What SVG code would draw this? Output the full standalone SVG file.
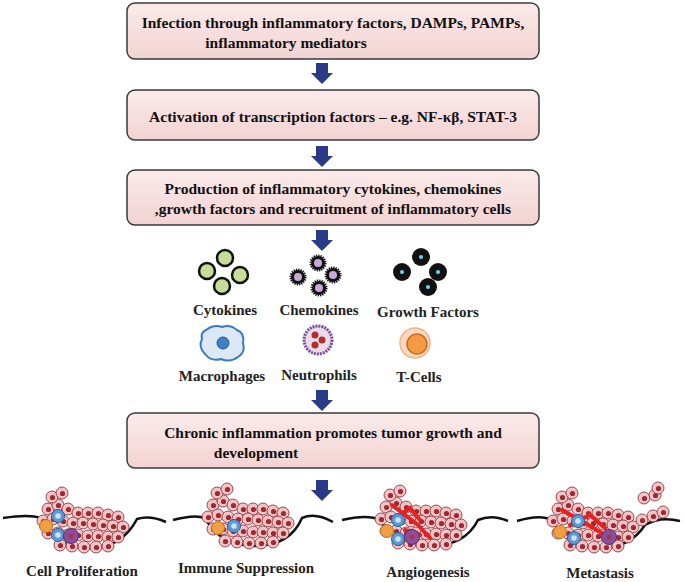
<svg xmlns="http://www.w3.org/2000/svg" xmlns:xlink="http://www.w3.org/1999/xlink" width="685" height="582" viewBox="0 0 685 582">
<style>
.box{fill:url(#pg);stroke:#3a3a3a;stroke-width:1.5}
.t{font-family:"Liberation Serif",serif;font-weight:bold;font-size:15.5px;fill:#111;text-anchor:middle}
.l{font-family:"Liberation Serif",serif;font-weight:bold;font-size:15px;fill:#222;text-anchor:middle}
.arr{fill:#2b3a86}
.ground{fill:none;stroke:#111;stroke-width:2.5}
</style>
<defs>
<linearGradient id="pg" x1="0" y1="0" x2="0" y2="1"><stop offset="0" stop-color="#fbeaea"/><stop offset="1" stop-color="#f3d3d3"/></linearGradient>
<g id="cell"><circle r="6" fill="#f3c2c4" stroke="#7a2a30" stroke-width="0.8"/><circle cx="0.5" cy="0.5" r="2.6" fill="#9c2a32"/></g>
<g id="blue"><circle r="6.5" fill="#5b9bd5" stroke="#2c5c99"/><circle r="2.8" fill="#fff" opacity="0.7"/></g>
<g id="org"><circle r="6.5" fill="#f0a040" stroke="#c07020"/></g>
<g id="pur"><circle r="7.5" fill="#8a4f9c" stroke="#5a2f6a"/><circle r="2.5" fill="#b03050"/></g>
<g id="chem"><circle r="7" fill="#111" stroke="#111" stroke-width="3" stroke-dasharray="1.2 1"/><circle r="4" fill="#c8a8d8"/></g>
<g id="ar"><rect x="-6" y="0" width="12" height="11"/><polygon points="-11,10 11,10 0,21"/></g>
<g id="tumor">
<use href="#cell" x="-40" y="-18"/><use href="#cell" x="-30" y="-22"/><use href="#cell" x="-20" y="-18"/><use href="#cell" x="-10" y="-14"/><use href="#cell" x="0" y="-14"/><use href="#cell" x="10" y="-14"/><use href="#cell" x="20" y="-12"/><use href="#cell" x="30" y="-10"/>
<use href="#cell" x="-45" y="-6"/><use href="#cell" x="-35" y="-8"/><use href="#cell" x="-25" y="-6"/><use href="#cell" x="-15" y="-4"/><use href="#cell" x="-5" y="-4"/><use href="#cell" x="5" y="-3"/><use href="#cell" x="15" y="-2"/><use href="#cell" x="25" y="-1"/><use href="#cell" x="35" y="0"/>
<use href="#cell" x="-40" y="6"/><use href="#cell" x="-30" y="6"/><use href="#cell" x="-20" y="8"/><use href="#cell" x="-10" y="8"/><use href="#cell" x="0" y="9"/><use href="#cell" x="10" y="9"/><use href="#cell" x="20" y="10"/><use href="#cell" x="30" y="10"/>
<use href="#cell" x="-28" y="18"/><use href="#cell" x="-16" y="19"/><use href="#cell" x="-4" y="20"/><use href="#cell" x="8" y="20"/><use href="#cell" x="20" y="19"/>
<use href="#cell" x="-36" y="-30"/><use href="#cell" x="-26" y="-34"/>
</g>
</defs>
<rect width="685" height="582" fill="#fff"/>
<g id="connectors">
<use href="#ar" class="arr" x="322" y="63"/>
<use href="#ar" class="arr" x="322" y="146"/>
<use href="#ar" class="arr" x="322" y="230"/>
<use href="#ar" class="arr" x="322" y="390"/>
<use href="#ar" class="arr" x="322" y="480"/>
</g>
<g id="n1"><rect class="box" x="127" y="3" width="412" height="56" rx="8"/><text class="t" x="333" y="28">Infection through inflammatory factors, DAMPs, PAMPs,</text><text class="t" x="286" y="48">inflammatory mediators</text></g>
<g id="n2"><rect class="box" x="127" y="90" width="412" height="50" rx="8"/><text class="t" x="333" y="122">Activation of transcription factors – e.g. NF-κβ, STAT-3</text></g>
<g id="n3"><rect class="box" x="127" y="170" width="412" height="55" rx="8"/><text class="t" x="333" y="194">Production of inflammatory cytokines, chemokines</text><text class="t" x="333" y="214">,growth factors and recruitment of inflammatory cells</text></g>
<g id="n4"><rect class="box" x="127" y="413" width="412" height="55" rx="8"/><text class="t" x="333" y="438">Chronic inflammation  promotes tumor growth and</text><text class="t" x="256" y="458">development</text></g>
<g id="cytokines" fill="#c5dd98" stroke="#111" stroke-width="2.5">
<circle cx="225" cy="258" r="8"/><circle cx="207" cy="271" r="8"/><circle cx="240" cy="275" r="8"/><circle cx="222" cy="286" r="8"/>
<text class="l" x="225" y="315" stroke="none">Cytokines</text></g>
<g id="chemokines">
<use href="#chem" x="318" y="263"/><use href="#chem" x="298" y="277" transform="translate(0,0)"/><use href="#chem" x="333" y="275"/><use href="#chem" x="319" y="288"/>
<text class="l" x="319" y="315">Chemokines</text></g>
<g id="growth" fill="#111">
<circle cx="421" cy="257" r="9"/><circle cx="402" cy="272" r="9"/><circle cx="438" cy="272" r="9"/><circle cx="428" cy="287" r="9"/>
<g fill="#6cd8e8"><circle cx="421" cy="257" r="2"/><circle cx="402" cy="272" r="2"/><circle cx="438" cy="272" r="2"/><circle cx="428" cy="287" r="2"/></g>
<text class="l" x="428" y="317">Growth Factors</text></g>
<g id="macrophages">
<path d="M206,330 Q214,324 222,327 Q230,324 237,330 Q245,333 243,343 Q246,352 238,357 Q230,363 221,359 Q211,362 205,354 Q198,347 202,339 Q200,333 206,330Z" fill="#dce8f6" stroke="#3a7ac8" stroke-width="2"/>
<circle cx="223" cy="343" r="6" fill="#3f7fc4" stroke="#25558f"/>
<text class="l" x="222" y="381">Macrophages</text></g>
<g id="neutrophils">
<circle cx="318" cy="340" r="14" fill="#e8dce8" stroke="#7a4a9a" stroke-width="3" stroke-dasharray="2 1"/>
<circle cx="315" cy="335" r="3.5" fill="#b03030"/><circle cx="322" cy="340" r="3.5" fill="#b03030"/><circle cx="315" cy="345" r="3.5" fill="#b03030"/>
<text class="l" x="319" y="380">Neutrophils</text></g>
<g id="tcells">
<circle cx="415" cy="343" r="15" fill="#fbd9c0" stroke="#f0b48a" stroke-width="1.5"/>
<circle cx="417" cy="344" r="10" fill="#f39a45" stroke="#c86d20" stroke-width="1.5"/>
<text class="l" x="419" y="382">T-Cells</text></g>
<g id="t1">
<path class="ground" d="M3,518 Q30,514 40,518 Q55,548 90,548 Q122,548 137,519 Q150,515 166,522"/>
<use href="#tumor" x="88" y="527"/>
<use href="#org" x="46" y="526"/><use href="#blue" x="58" y="516"/><use href="#blue" x="58" y="535"/><use href="#pur" x="71" y="536"/>
<text class="l" x="82" y="576">Cell Proliferation</text></g>
<g id="t2">
<path class="ground" d="M173,520 Q195,514 205,518 Q220,546 255,546 Q290,546 302,518 Q315,512 333,522"/>
<use href="#tumor" x="253" y="523"/>
<use href="#org" x="218" y="528"/><use href="#blue" x="234" y="526"/>
<text class="l" x="246" y="573">Immune Suppression</text></g>
<g id="t3">
<path class="ground" d="M342,520 Q368,514 380,520 Q395,546 430,546 Q465,546 478,520 Q492,514 508,521"/>
<use href="#tumor" x="426" y="525"/>
<path d="M392,505 L405,515 L418,525 L430,538 M396,518 L410,508 L420,520 M405,530 L420,535" stroke="#e82020" stroke-width="4" fill="none" stroke-linecap="round"/>
<use href="#org" x="387" y="531"/><use href="#blue" x="398" y="520"/><use href="#blue" x="398" y="539"/><use href="#pur" x="412" y="537"/>
<text class="l" x="428" y="577">Angiogenesis</text></g>
<g id="t4">
<path class="ground" d="M517,521 Q540,514 552,520 Q567,548 600,548 Q630,548 645,525 Q660,516 680,521"/>
<use href="#tumor" x="598" y="527"/>
<use href="#cell" x="642" y="520"/><use href="#cell" x="653" y="516"/><use href="#cell" x="663" y="512"/>
<use href="#cell" x="644" y="498"/><use href="#cell" x="655" y="495"/><use href="#cell" x="658" y="488"/>
<path d="M562,510 L580,520 L600,532 L612,540 M570,525 L590,515 L605,528" stroke="#e82020" stroke-width="4" fill="none" stroke-linecap="round"/>
<use href="#org" x="560" y="532"/><use href="#blue" x="578" y="521"/><use href="#blue" x="574" y="538"/><use href="#pur" x="609" y="537"/>
<text class="l" x="600" y="578">Metastasis</text></g>
</svg>
